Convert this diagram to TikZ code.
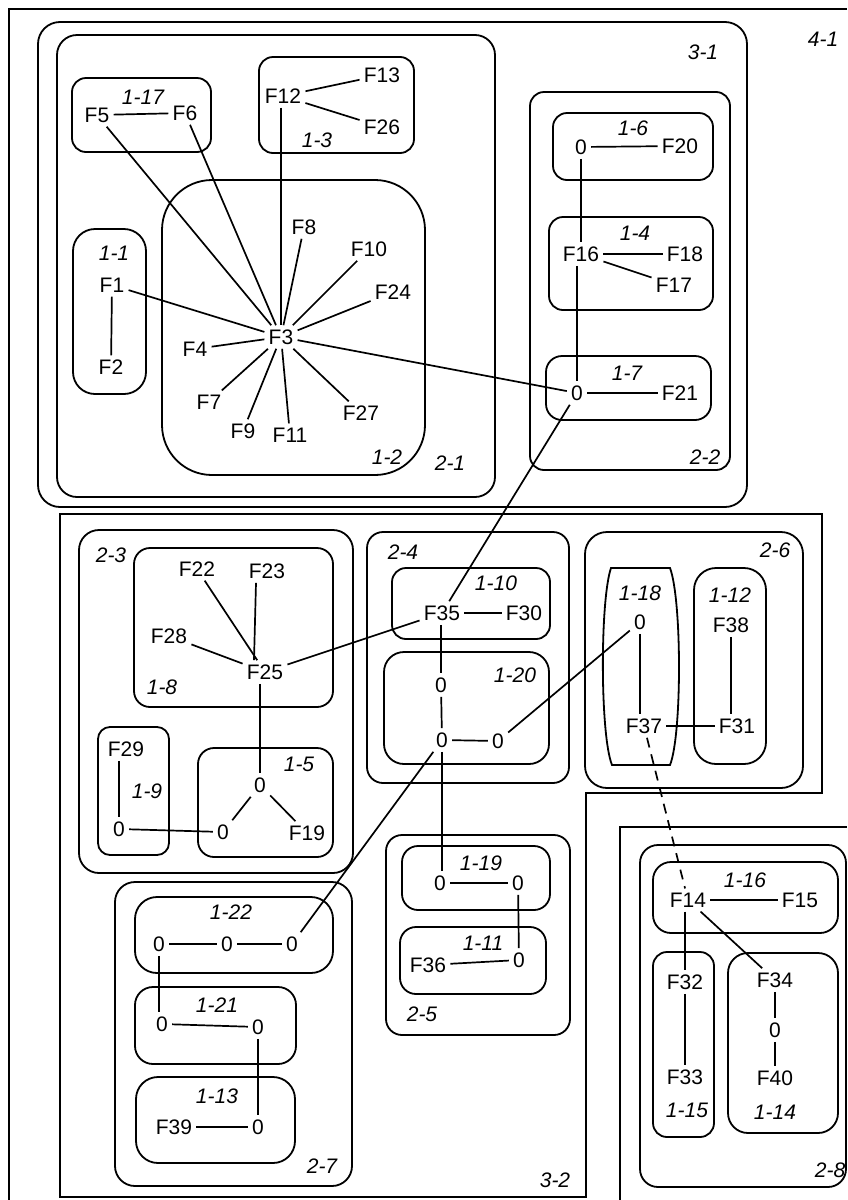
\documentclass[tikz,border=0pt]{standalone}
\usepackage{fontspec}
\setmainfont{Liberation Sans}
\usetikzlibrary{positioning,calc}

\begin{document}
\begin{tikzpicture}[
    x=1pt, y=-1pt,
    font=\fontsize{21}{24}\selectfont,
    line width=1.7pt,
    feat/.style={inner sep=3.5pt},
    tag/.style={font=\fontsize{21}{24}\selectfont\itshape, inner sep=0pt},
    link/.style={line width=1.7pt},
    dashlink/.style={line width=1.7pt, dash pattern=on 10pt off 7pt},
    clu/.style={draw, line width=1.8pt},
    frame/.style={draw, line width=1.8pt}
]
\useasboundingbox (0,0) rectangle (847,1200);

% Outer level 4 and 3
\draw[frame] (9,1200) |- (847,9);
\node[tag] (l41) at (823,39) {4-1};
\draw[clu, rounded corners=22pt] (38,22) rectangle (747,507);
\node[tag] (l31) at (703,52) {3-1};
\draw[frame] (60,514) -- (822,514) -- (822,793) -- (586,793) -- (586,1197) -- (60,1197) -- cycle;
\node[tag] (l32) at (555,1180) {3-2};
\draw[frame] (620,1200) |- (847,827);

% Cluster 2-1
\draw[clu, rounded corners=20pt] (57,35) rectangle (495,497);
\node[tag] (l21) at (450,463) {2-1};
\draw[clu, rounded corners=14pt] (72,78) rectangle (211,152);
\node[tag] (l117) at (143,97) {1-17};
\draw[clu, rounded corners=14pt] (259,57) rectangle (414,153);
\node[tag] (l13) at (317,140) {1-3};
\draw[clu, rounded corners=50pt] (162,180) rectangle (425,475);
\node[tag] (l12) at (387,457) {1-2};
\draw[clu, rounded corners=22pt] (73,229) rectangle (146,394);
\node[tag] (l11) at (114,253) {1-1};

\node[feat] (F5) at (97,115) {F5};
\node[feat] (F6) at (185,113) {F6};
\node[feat] (F12) at (283,96) {F12};
\node[feat] (F13) at (382,75) {F13};
\node[feat] (F26) at (382,127) {F26};
\node[feat] (F1) at (112,285) {F1};
\node[feat] (F2) at (111,367) {F2};
\node[feat] (F3) at (281,337) {F3};
\node[feat] (F8) at (304,227) {F8};
\node[feat] (F10) at (369,249) {F10};
\node[feat] (F24) at (393,292) {F24};
\node[feat] (F4) at (195,349) {F4};
\node[feat] (F7) at (209,402) {F7};
\node[feat] (F9) at (243,431) {F9};
\node[feat] (F11) at (290,435) {F11};
\node[feat] (F27) at (361,413) {F27};

% Cluster 2-2
\draw[clu, rounded corners=14pt] (530,92) rectangle (730,470);
\node[tag] (l22) at (705,457) {2-2};
\draw[clu, rounded corners=14pt] (553,113) rectangle (713,180);
\node[tag] (l16) at (633,128) {1-6};
\draw[clu, rounded corners=14pt] (549,217) rectangle (713,310);
\node[tag] (l14) at (635,233) {1-4};
\draw[clu, rounded corners=16pt] (546,356) rectangle (711,420);
\node[tag] (l17) at (627,373) {1-7};

\node[feat] (z6) at (581,147) {0};
\node[feat] (F20) at (680,146) {F20};
\node[feat] (F16) at (581,254) {F16};
\node[feat] (F18) at (685,254) {F18};
\node[feat] (F17) at (674,285) {F17};
\node[feat] (z7) at (577,393) {0};
\node[feat] (F21) at (680,393) {F21};

% Cluster 2-3
\draw[clu, rounded corners=20pt] (79,530) rectangle (353,873);
\node[tag] (l23) at (111,555) {2-3};
\draw[clu, rounded corners=16pt] (134,548) rectangle (333,707);
\node[tag] (l18) at (162,687) {1-8};
\draw[clu, rounded corners=12pt] (98,727) rectangle (169,855);
\node[tag] (l19) at (147,791) {1-9};
\draw[clu, rounded corners=16pt] (198,748) rectangle (333,857);
\node[tag] (l15) at (299,764) {1-5};

\node[feat] (F22) at (197,569) {F22};
\node[feat] (F23) at (267,571) {F23};
\node[feat] (F28) at (169,636) {F28};
\node[feat] (F25) at (265,672) {F25};
\node[feat] (F29) at (126,749) {F29};
\node[feat] (z9) at (119,829) {0};
\node[feat] (z5a) at (260,785) {0};
\node[feat] (z5b) at (223,832) {0};
\node[feat] (F19) at (307,833) {F19};

% Cluster 2-4
\draw[clu, rounded corners=16pt] (367,532) rectangle (569,783);
\node[tag] (l24) at (403,552) {2-4};
\draw[clu, rounded corners=14pt] (392,568) rectangle (550,639);
\node[tag] (l110) at (496,583) {1-10};
\draw[clu, rounded corners=20pt] (384,652) rectangle (549,764);
\node[tag] (l120) at (515,675) {1-20};

\node[feat] (F35) at (442,613) {F35};
\node[feat] (F30) at (524,613) {F30};
\node[feat] (z20a) at (441,685) {0};
\node[feat] (z20b) at (442,740) {0};
\node[feat] (z20c) at (498,741) {0};

% Cluster 2-6
\draw[clu, rounded corners=22pt] (585,532) rectangle (803,788);
\node[tag] (l26) at (775,550) {2-6};
\draw[clu] (611,568) -- (670,568) .. controls (682,600) and (682,735) .. (670,765)
    -- (612,765) .. controls (600,735) and (600,600) .. (611,568) -- cycle;
\node[tag] (l118) at (640,593) {1-18};
\draw[clu, rounded corners=22pt] (694,568) rectangle (766,764);
\node[tag] (l112) at (730,595) {1-12};

\node[feat] (z18) at (640,622) {0};
\node[feat] (F37) at (644,726) {F37};
\node[feat] (F38) at (731,625) {F38};
\node[feat] (F31) at (737,726) {F31};

% Cluster 2-7
\draw[clu, rounded corners=20pt] (115,882) rectangle (352,1186);
\node[tag] (l27) at (322,1166) {2-7};
\draw[clu, rounded corners=22pt] (135,897) rectangle (333,973);
\node[tag] (l122) at (231,912) {1-22};
\draw[clu, rounded corners=18pt] (135,987) rectangle (296,1064);
\node[tag] (l121) at (217,1005) {1-21};
\draw[clu, rounded corners=22pt] (136,1077) rectangle (295,1163);
\node[tag] (l113) at (217,1096) {1-13};

\node[feat] (z22a) at (159,944) {0};
\node[feat] (z22b) at (227,944) {0};
\node[feat] (z22c) at (292,944) {0};
\node[feat] (z21a) at (162,1024) {0};
\node[feat] (z21b) at (258,1027) {0};
\node[feat] (F39) at (174,1127) {F39};
\node[feat] (z13) at (258,1127) {0};

% Cluster 2-5
\draw[clu, rounded corners=16pt] (386,835) rectangle (570,1035);
\node[tag] (l25) at (422,1014) {2-5};
\draw[clu, rounded corners=16pt] (402,846) rectangle (550,910);
\node[tag] (l119) at (481,863) {1-19};
\draw[clu, rounded corners=16pt] (400,927) rectangle (546,994);
\node[tag] (l111) at (483,943) {1-11};

\node[feat] (z19a) at (440,883) {0};
\node[feat] (z19b) at (518,883) {0};
\node[feat] (F36) at (428,965) {F36};
\node[feat] (z11) at (519,960) {0};

% Cluster 2-8
\draw[clu, rounded corners=18pt] (640,845) rectangle (846,1187);
\node[tag] (l28) at (830,1170) {2-8};
\draw[clu, rounded corners=18pt] (653,862) rectangle (838,933);
\node[tag] (l116) at (745,880) {1-16};
\draw[clu, rounded corners=14pt] (653,952) rectangle (714,1137);
\node[tag] (l115) at (687,1110) {1-15};
\draw[clu, rounded corners=20pt] (728,953) rectangle (838,1133);
\node[tag] (l114) at (775,1112) {1-14};

\node[feat] (F14) at (688,900) {F14};
\node[feat] (F15) at (800,900) {F15};
\node[feat] (F32) at (685,982) {F32};
\node[feat] (F33) at (685,1077) {F33};
\node[feat] (F34) at (775,980) {F34};
\node[feat] (z14) at (775,1030) {0};
\node[feat] (F40) at (775,1078) {F40};

% Links
\foreach \a/\b in {F5/F6, F12/F13, F12/F26, F1/F2, F1/F3, F5/F3, F6/F3,
    F3/F8, F3/F10, F3/F24, F3/F4, F3/F7, F3/F9, F3/F11, F3/F27, F3/z7,
    z6/F20, z6/F16, F16/F18, F16/F17, z7/F21, z7/F35,
    F25/F22, F25/F28, F25/F35, z5a/z5b, z5a/F19, z9/z5b,
    F35/F30, z20a/z20b, z20b/z20c, z20c/z18, z20b/z22c,
    F37/F31,
    z22a/z22b, z22b/z22c, z21a/z21b, F39/z13,
    z19a/z19b, z19b/z11, F36/z11,
    F14/F15, F14/F34, F32/F33, F34/z14, z14/F40}
    \draw[link] (\a) -- (\b);

% Vertical links
\draw[link] (F12.south -| F3) -- (F3);
\draw[link] (F16.south -| z7) -- (z7);
\draw[link] ($(F23.south)+(-11,0)$) -- ($(F25.north)+(-11,0)$);
\draw[link] (F25.south -| z5a) -- (z5a);
\draw[link] (F29.south -| z9) -- (z9);
\draw[link] (F35.south -| z20a) -- (z20a);
\draw[link] (z20b) -- (z20b |- z19a.north);
\draw[link] (z18) -- (z18 |- F37.north);
\draw[link] (F38) -- (F38 |- F31.north);
\draw[link] (z22a) -- (z22a |- z21a.north);
\draw[link] (z21b) -- (z21b |- z13.north);
\draw[link] (F14.south -| F32) -- (F32);
\draw[dashlink] (F37) -- (F14);

\end{tikzpicture}
\end{document}
